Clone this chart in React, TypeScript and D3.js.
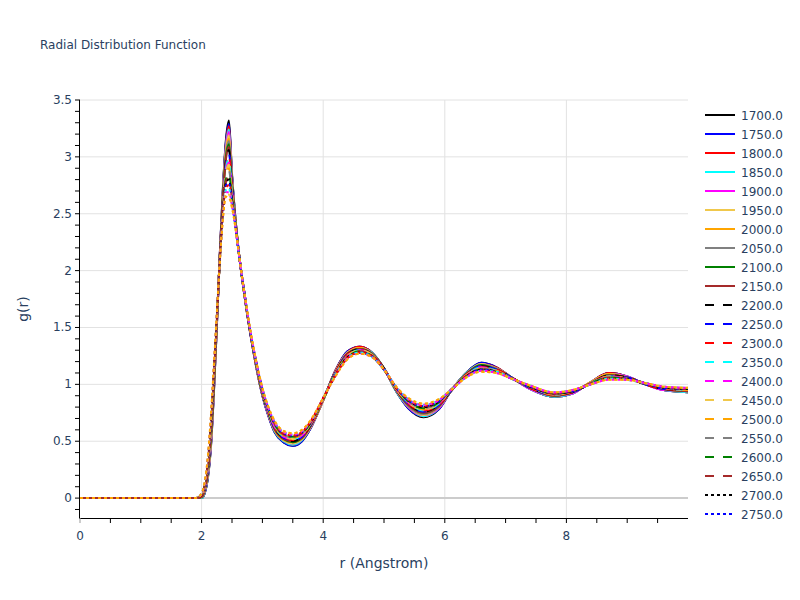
import React from "react";
import * as d3 from "d3";

const R_VALUES = [0, 1.9, 2.0, 2.05, 2.1, 2.15, 2.2, 2.25, 2.3, 2.35, 2.4, 2.45, 2.5, 2.55, 2.6, 2.7, 2.8, 2.9, 3.0, 3.1, 3.2, 3.35, 3.5, 3.65, 3.8, 4.0, 4.2, 4.4, 4.6, 4.8, 5.0, 5.2, 5.4, 5.65, 5.9, 6.1, 6.35, 6.6, 6.85, 7.1, 7.4, 7.8, 8.1, 8.4, 8.7, 9.0, 9.3, 9.6, 10.0];

const SERIES_NAMES = ["1700.0", "1750.0", "1800.0", "1850.0", "1900.0", "1950.0", "2000.0", "2050.0", "2100.0", "2150.0", "2200.0", "2250.0", "2300.0", "2350.0", "2400.0", "2450.0", "2500.0", "2550.0", "2600.0", "2650.0", "2700.0", "2750.0", "2800.0", "2850.0", "2900.0", "2950.0", "3000.0"];

const G_1700 = [0, 0, 0, .04, .16, .42, .90, 1.50, 2.15, 2.72, 3.15, 3.32, 2.85, 2.50, 2.22, 1.80, 1.45, 1.15, .90, .72, .58, .49, .46, .50, .62, .86, 1.12, 1.29, 1.33, 1.28, 1.14, .94, .79, .71, .78, .94, 1.10, 1.19, 1.15, 1.06, .96, .89, .92, 1.02, 1.10, 1.07, 1.00, .95, .93];
const G_1750 = [0, 0, 0, .04, .17, .43, .91, 1.50, 2.15, 2.71, 3.13, 3.29, 2.84, 2.50, 2.22, 1.80, 1.45, 1.15, .90, .72, .58, .49, .46, .50, .62, .86, 1.12, 1.29, 1.33, 1.28, 1.14, .94, .79, .72, .78, .94, 1.10, 1.19, 1.15, 1.06, .96, .89, .92, 1.02, 1.10, 1.07, 1.00, .95, .93];
const G_1800 = [0, 0, 0, .05, .18, .44, .92, 1.51, 2.14, 2.70, 3.11, 3.27, 2.83, 2.49, 2.22, 1.80, 1.45, 1.15, .91, .73, .59, .50, .47, .51, .63, .86, 1.12, 1.28, 1.33, 1.28, 1.14, .94, .80, .72, .79, .94, 1.10, 1.18, 1.15, 1.06, .96, .89, .92, 1.02, 1.10, 1.07, 1.00, .95, .93];
const G_1850 = [0, 0, 0, .05, .18, .45, .93, 1.51, 2.14, 2.69, 3.09, 3.24, 2.82, 2.49, 2.22, 1.80, 1.45, 1.16, .91, .73, .59, .50, .47, .51, .63, .86, 1.11, 1.28, 1.32, 1.28, 1.14, .94, .80, .72, .79, .94, 1.10, 1.18, 1.14, 1.06, .96, .89, .92, 1.02, 1.09, 1.07, 1.00, .95, .93];
const G_1900 = [0, 0, .01, .06, .19, .46, .94, 1.52, 2.14, 2.68, 3.07, 3.22, 2.80, 2.48, 2.22, 1.80, 1.45, 1.16, .91, .73, .60, .51, .48, .52, .63, .86, 1.11, 1.28, 1.32, 1.27, 1.14, .95, .80, .73, .79, .94, 1.09, 1.18, 1.14, 1.06, .96, .90, .92, 1.02, 1.09, 1.07, 1.00, .95, .94];
const G_1950 = [0, 0, .01, .06, .20, .47, .95, 1.52, 2.14, 2.67, 3.05, 3.19, 2.79, 2.48, 2.22, 1.80, 1.46, 1.16, .91, .74, .60, .51, .48, .52, .63, .86, 1.11, 1.28, 1.32, 1.27, 1.14, .95, .81, .73, .80, .94, 1.09, 1.18, 1.14, 1.06, .97, .90, .93, 1.02, 1.09, 1.06, 1.00, .96, .94];
const G_2000 = [0, 0, .01, .06, .20, .49, .96, 1.53, 2.13, 2.66, 3.04, 3.16, 2.78, 2.48, 2.22, 1.80, 1.46, 1.16, .92, .74, .60, .51, .49, .52, .64, .86, 1.11, 1.27, 1.32, 1.27, 1.14, .95, .81, .74, .80, .94, 1.09, 1.17, 1.14, 1.06, .97, .90, .93, 1.02, 1.09, 1.06, 1.00, .96, .94];
const G_2050 = [0, 0, .01, .07, .21, .50, .97, 1.53, 2.13, 2.65, 3.02, 3.14, 2.77, 2.47, 2.21, 1.81, 1.46, 1.16, .92, .74, .61, .52, .49, .53, .64, .87, 1.11, 1.27, 1.31, 1.27, 1.14, .95, .81, .74, .80, .94, 1.09, 1.17, 1.14, 1.06, .97, .90, .93, 1.01, 1.08, 1.06, 1.00, .96, .94];
const G_2100 = [0, 0, .01, .07, .22, .51, .98, 1.54, 2.13, 2.64, 3.00, 3.11, 2.76, 2.47, 2.21, 1.81, 1.46, 1.17, .92, .75, .61, .52, .49, .53, .64, .87, 1.10, 1.27, 1.31, 1.27, 1.14, .95, .82, .75, .81, .94, 1.09, 1.17, 1.13, 1.06, .97, .90, .93, 1.01, 1.08, 1.06, 1.00, .96, .94];
const G_2150 = [0, 0, .01, .07, .23, .52, .99, 1.54, 2.13, 2.63, 2.98, 3.09, 2.75, 2.47, 2.21, 1.81, 1.46, 1.17, .92, .75, .61, .52, .50, .53, .64, .87, 1.10, 1.27, 1.31, 1.27, 1.14, .95, .82, .75, .81, .94, 1.09, 1.16, 1.13, 1.06, .97, .90, .93, 1.01, 1.08, 1.06, 1.00, .96, .94];
const G_2200 = [0, 0, .02, .08, .23, .53, 1.00, 1.55, 2.12, 2.62, 2.96, 3.06, 2.74, 2.46, 2.21, 1.81, 1.46, 1.17, .93, .75, .62, .53, .50, .54, .65, .87, 1.10, 1.26, 1.31, 1.26, 1.14, .96, .83, .76, .82, .94, 1.08, 1.16, 1.13, 1.06, .97, .91, .93, 1.01, 1.08, 1.06, 1.00, .96, .95];
const G_2250 = [0, 0, .02, .08, .24, .54, 1.01, 1.55, 2.12, 2.61, 2.94, 3.03, 2.72, 2.46, 2.21, 1.81, 1.46, 1.17, .93, .75, .62, .53, .51, .54, .65, .87, 1.10, 1.26, 1.30, 1.26, 1.14, .96, .83, .76, .82, .94, 1.08, 1.16, 1.13, 1.06, .97, .91, .93, 1.01, 1.07, 1.06, 1.00, .96, .95];
const G_2300 = [0, 0, .02, .09, .25, .55, 1.02, 1.56, 2.12, 2.60, 2.92, 3.01, 2.71, 2.45, 2.21, 1.81, 1.46, 1.17, .93, .76, .63, .54, .51, .55, .65, .87, 1.10, 1.26, 1.30, 1.26, 1.14, .96, .83, .77, .82, .94, 1.08, 1.15, 1.13, 1.06, .97, .91, .93, 1.01, 1.07, 1.06, 1.00, .96, .95];
const G_2350 = [0, 0, .02, .09, .25, .56, 1.03, 1.56, 2.12, 2.59, 2.90, 2.98, 2.70, 2.45, 2.21, 1.81, 1.47, 1.18, .94, .76, .63, .54, .52, .55, .66, .87, 1.09, 1.25, 1.30, 1.26, 1.13, .96, .84, .77, .83, .95, 1.08, 1.15, 1.12, 1.05, .98, .91, .94, 1.01, 1.07, 1.05, 1.01, .97, .95];
const G_2400 = [0, 0, .02, .09, .26, .57, 1.04, 1.56, 2.11, 2.58, 2.88, 2.95, 2.69, 2.45, 2.21, 1.81, 1.47, 1.18, .94, .76, .63, .54, .52, .55, .66, .87, 1.09, 1.25, 1.30, 1.26, 1.13, .96, .84, .78, .83, .95, 1.08, 1.15, 1.12, 1.05, .98, .91, .94, 1.01, 1.07, 1.05, 1.01, .97, .95];
const G_2450 = [0, 0, .02, .10, .27, .58, 1.04, 1.57, 2.11, 2.56, 2.86, 2.93, 2.68, 2.44, 2.21, 1.81, 1.47, 1.18, .94, .77, .64, .55, .52, .56, .66, .87, 1.09, 1.25, 1.30, 1.26, 1.13, .96, .84, .78, .83, .95, 1.08, 1.14, 1.12, 1.05, .98, .91, .94, 1.01, 1.07, 1.05, 1.01, .97, .95];
const G_2500 = [0, 0, .02, .10, .28, .59, 1.05, 1.57, 2.11, 2.55, 2.84, 2.90, 2.67, 2.44, 2.21, 1.81, 1.47, 1.18, .94, .77, .64, .55, .53, .56, .66, .87, 1.09, 1.25, 1.29, 1.26, 1.13, .96, .85, .78, .84, .95, 1.08, 1.14, 1.12, 1.05, .98, .91, .94, 1.01, 1.06, 1.05, 1.01, .97, .95];
const G_2550 = [0, 0, .03, .11, .28, .60, 1.06, 1.58, 2.10, 2.54, 2.82, 2.88, 2.65, 2.43, 2.21, 1.81, 1.47, 1.18, .95, .77, .65, .56, .53, .57, .67, .87, 1.09, 1.24, 1.29, 1.25, 1.13, .97, .85, .79, .84, .95, 1.07, 1.14, 1.12, 1.05, .98, .92, .94, 1.01, 1.06, 1.05, 1.01, .97, .96];
const G_2600 = [0, 0, .03, .11, .29, .61, 1.07, 1.58, 2.10, 2.53, 2.80, 2.85, 2.64, 2.43, 2.21, 1.81, 1.47, 1.19, .95, .78, .65, .56, .54, .57, .67, .87, 1.08, 1.24, 1.29, 1.25, 1.13, .97, .85, .79, .84, .95, 1.07, 1.13, 1.11, 1.05, .98, .92, .94, 1.01, 1.06, 1.05, 1.01, .97, .96];
const G_2650 = [0, 0, .03, .11, .30, .63, 1.08, 1.59, 2.10, 2.52, 2.78, 2.82, 2.63, 2.43, 2.21, 1.81, 1.47, 1.19, .95, .78, .65, .56, .54, .57, .67, .87, 1.08, 1.24, 1.29, 1.25, 1.13, .97, .86, .80, .85, .95, 1.07, 1.13, 1.11, 1.05, .98, .92, .94, 1.01, 1.06, 1.05, 1.01, .97, .96];
const G_2700 = [0, 0, .03, .12, .31, .64, 1.09, 1.59, 2.10, 2.51, 2.77, 2.80, 2.62, 2.42, 2.20, 1.82, 1.47, 1.19, .95, .78, .66, .57, .55, .58, .67, .88, 1.08, 1.24, 1.28, 1.25, 1.13, .97, .86, .80, .85, .95, 1.07, 1.13, 1.11, 1.05, .98, .92, .94, 1.00, 1.05, 1.05, 1.01, .97, .96];
const G_2750 = [0, 0, .03, .12, .31, .65, 1.10, 1.60, 2.09, 2.50, 2.75, 2.77, 2.61, 2.42, 2.20, 1.82, 1.47, 1.19, .96, .79, .66, .57, .55, .58, .68, .88, 1.08, 1.23, 1.28, 1.25, 1.13, .97, .86, .81, .85, .95, 1.07, 1.13, 1.11, 1.05, .98, .92, .94, 1.00, 1.05, 1.05, 1.01, .97, .96];
const G_2800 = [0, 0, .03, .12, .32, .66, 1.11, 1.60, 2.09, 2.49, 2.73, 2.75, 2.60, 2.42, 2.20, 1.82, 1.48, 1.19, .96, .79, .66, .57, .55, .58, .68, .88, 1.08, 1.23, 1.28, 1.25, 1.13, .97, .87, .81, .86, .95, 1.07, 1.12, 1.11, 1.05, .99, .92, .95, 1.00, 1.05, 1.04, 1.01, .98, .96];
const G_2850 = [0, 0, .04, .13, .33, .67, 1.12, 1.61, 2.09, 2.48, 2.71, 2.72, 2.58, 2.41, 2.20, 1.82, 1.48, 1.19, .96, .79, .67, .58, .56, .59, .68, .88, 1.08, 1.23, 1.28, 1.24, 1.13, .98, .87, .82, .86, .95, 1.06, 1.12, 1.11, 1.05, .99, .93, .95, 1.00, 1.05, 1.04, 1.01, .98, .97];
const G_2900 = [0, 0, .04, .13, .34, .68, 1.13, 1.61, 2.09, 2.47, 2.69, 2.69, 2.57, 2.41, 2.20, 1.82, 1.48, 1.20, .96, .79, .67, .58, .56, .59, .68, .88, 1.07, 1.23, 1.27, 1.24, 1.13, .98, .87, .82, .86, .95, 1.06, 1.12, 1.10, 1.05, .99, .93, .95, 1.00, 1.04, 1.04, 1.01, .98, .97];
const G_2950 = [0, 0, .04, .14, .34, .69, 1.14, 1.62, 2.08, 2.46, 2.67, 2.67, 2.56, 2.40, 2.20, 1.82, 1.48, 1.20, .97, .80, .68, .59, .57, .60, .69, .88, 1.07, 1.22, 1.27, 1.24, 1.13, .98, .88, .83, .87, .95, 1.06, 1.11, 1.10, 1.05, .99, .93, .95, 1.00, 1.04, 1.04, 1.01, .98, .97];
const G_3000 = [0, 0, .04, .14, .35, .70, 1.15, 1.62, 2.08, 2.45, 2.65, 2.64, 2.55, 2.40, 2.20, 1.82, 1.48, 1.20, .97, .80, .68, .59, .57, .60, .69, .88, 1.07, 1.22, 1.27, 1.24, 1.13, .98, .88, .83, .87, .95, 1.06, 1.11, 1.10, 1.05, .99, .93, .95, 1.00, 1.04, 1.04, 1.01, .98, .97];

const SERIES_VALUES = [G_1700, G_1750, G_1800, G_1850, G_1900, G_1950, G_2000, G_2050, G_2100, G_2150, G_2200, G_2250, G_2300, G_2350, G_2400, G_2450, G_2500, G_2550, G_2600, G_2650, G_2700, G_2750, G_2800, G_2850, G_2900, G_2950, G_3000];

const COLOR_CYCLE = ["#000000", "#0000ff", "#ff0000", "#00ffff", "#ff00ff", "#f0c84c", "#ffa500", "#808080", "#008000", "#a52a2a"];
const DASH_CYCLE = ["none", "9,9", "3,3"];

const Y_LABELS = [0, 0.5, 1, 1.5, 2, 2.5, 3, 3.5];
const X_LABELS = [0, 2, 4, 6, 8];

const TEXT = "#2a3f5f";
const FONT = '"DejaVu Sans", Verdana, sans-serif';

export default function App() {
  const left = 80, right = 688, top = 100, bottom = 518;
  const x = d3.scaleLinear().domain([0, 10]).range([left, right]);
  const y = d3.scaleLinear().domain([-0.175, 3.5]).range([bottom, top]);

  const yMinor = d3.range(-1, 36).map((k) => k / 10);
  const xMinor = d3.range(0, 20).map((k) => k / 2);

  const makeLine = (vals: number[]) => {
    const n = Math.min(vals.length, R_VALUES.length);
    const pts: [number, number][] = [];
    for (let i = 0; i < n; i++) pts.push([R_VALUES[i], vals[i]]);
    return d3
      .line<[number, number]>()
      .x((d) => x(d[0]))
      .y((d) => y(d[1]))
      .curve(d3.curveMonotoneX)(pts) as string;
  };

  // legend entries that fit within the visible legend box (the rest scroll out of view)
  const legendItems = SERIES_NAMES.map((name, i) => ({ name, i, cy: 115 + i * 19 })).filter(
    (d) => d.cy <= bottom
  );

  return (
    <svg
      width={800}
      height={600}
      style={{ position: "absolute", left: 0, top: 0, background: "#fff", fontFamily: FONT }}
    >
      <defs>
        <clipPath id="plotclip">
          <rect x={left} y={top} width={right - left} height={bottom - top} />
        </clipPath>
      </defs>
      <rect x={0} y={0} width={800} height={600} fill="#fff" />

      <text x={40} y={49} fontSize={12} fill={TEXT}>
        Radial Distribution Function
      </text>

      {/* grid */}
      {X_LABELS.filter((v) => v !== 0).map((v) => (
        <line key={"gx" + v} x1={x(v)} x2={x(v)} y1={top} y2={bottom} stroke="#e2e2e2" strokeWidth={1} />
      ))}
      {Y_LABELS.filter((v) => v !== 0).map((v) => (
        <line key={"gy" + v} x1={left} x2={right} y1={y(v)} y2={y(v)} stroke="#e2e2e2" strokeWidth={1} />
      ))}
      <line x1={left} x2={right} y1={y(0)} y2={y(0)} stroke="#cccccc" strokeWidth={2} />

      {/* series */}
      <g clipPath="url(#plotclip)">
        {SERIES_VALUES.map((vals, i) => (
          <path
            key={SERIES_NAMES[i]}
            d={makeLine(vals)}
            fill="none"
            stroke={COLOR_CYCLE[i % 10]}
            strokeWidth={2}
            strokeDasharray={DASH_CYCLE[Math.floor(i / 10)]}
          />
        ))}
      </g>

      {/* axes */}
      <line x1={left - 0.5} x2={left - 0.5} y1={top} y2={bottom + 0.5} stroke="#000" strokeWidth={1} />
      <line x1={left - 0.5} x2={right} y1={bottom + 0.5} y2={bottom + 0.5} stroke="#000" strokeWidth={1} />
      {yMinor.map((v) => (
        <line key={"ty" + v} x1={left - 5} x2={left} y1={y(v)} y2={y(v)} stroke="#000" strokeWidth={1} />
      ))}
      {xMinor.map((v) => (
        <line key={"tx" + v} x1={x(v)} x2={x(v)} y1={bottom} y2={bottom + 5} stroke={v === 0 ? "#999" : "#000"} strokeWidth={1} />
      ))}
      {Y_LABELS.map((v) => (
        <text key={"ly" + v} x={72} y={y(v) + 4} fontSize={12} fill={TEXT} textAnchor="end">
          {String(v)}
        </text>
      ))}
      {X_LABELS.map((v) => (
        <text key={"lx" + v} x={x(v)} y={540} fontSize={12} fill={TEXT} textAnchor="middle">
          {String(v)}
        </text>
      ))}

      <text x={(left + right) / 2} y={568} fontSize={14} fill={TEXT} textAnchor="middle">
        r (Angstrom)
      </text>
      <text transform={`translate(28, ${(top + bottom) / 2}) rotate(-90)`} fontSize={14} fill={TEXT} textAnchor="middle">
        g(r)
      </text>

      {/* legend */}
      <g>
        {legendItems.map(({ name, i, cy }) => (
          <g key={"lg" + name}>
            <line
              x1={705}
              x2={735}
              y1={cy}
              y2={cy}
              stroke={COLOR_CYCLE[i % 10]}
              strokeWidth={2}
              strokeDasharray={DASH_CYCLE[Math.floor(i / 10)]}
            />
            <text x={741} y={cy + 4.5} fontSize={12} fill={TEXT}>
              {name}
            </text>
          </g>
        ))}
      </g>
    </svg>
  );
}
